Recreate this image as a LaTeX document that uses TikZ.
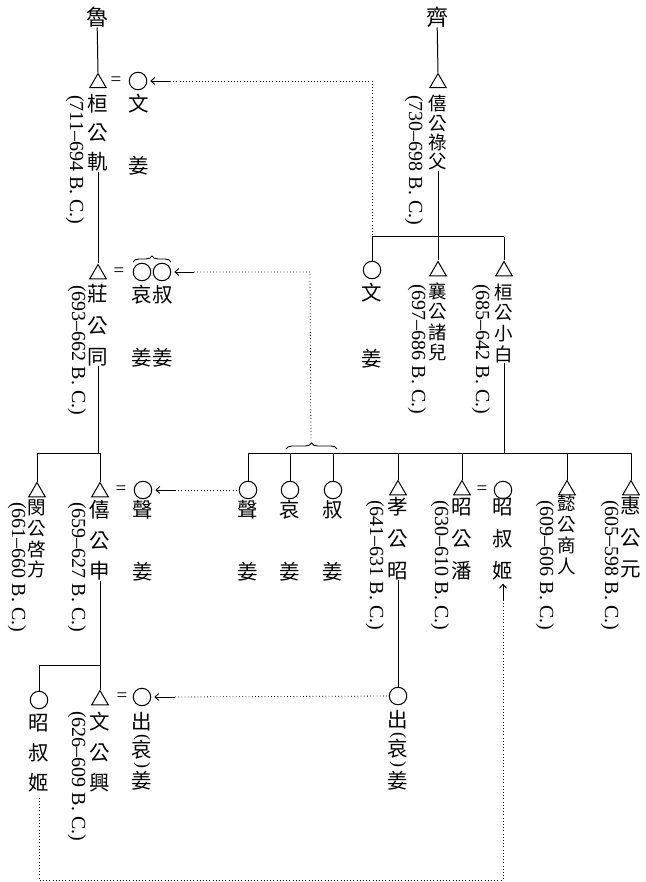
\documentclass[tikz,border=0pt]{standalone}
\usepackage{fontspec}
\setmainfont{Liberation Serif}
\newfontfamily\cjk{Noto Sans CJK TC}
\usetikzlibrary{arrows.meta,decorations.pathreplacing,shapes.geometric}
\tikzset{
  ln/.style={line width=1pt},
  dotln/.style={line width=0.8pt, dash pattern=on 0.8pt off 2.4pt},
  cj/.style={inner sep=0pt, font=\cjk\fontsize{20.5}{20.5}\selectfont},
  cjs/.style={inner sep=0pt, font=\cjk\fontsize{18.5}{18.5}\selectfont},
  house/.style={inner sep=0pt, font=\cjk\fontsize{22}{22}\selectfont},
  yr/.style={rotate=-90, anchor=west, inner sep=0pt, font=\fontsize{20}{20}\selectfont},
  tri/.style={draw, regular polygon, regular polygon sides=3, minimum size=19pt, inner sep=0pt, line width=1pt},
  cir/.style={draw, circle, minimum size=17.5pt, inner sep=0pt, line width=1pt},
  eq/.style={inner sep=0pt, font=\fontsize{19}{19}\selectfont},
  par/.style={inner sep=0pt, rotate=-90, font=\fontsize{18}{18}\selectfont},
  arr/.style={line width=0.9pt, shorten >=3pt, -{Straight Barb[length=4pt,width=7pt]}},
  brc/.style={decorate, decoration={brace, amplitude=6pt}, line width=0.9pt},
}
\newcommand\vcol[5]{\foreach \c [count=\i] in {#5} {\node[cj] (#1\i) at (#2,{#3+(\i-1)*#4}) {\c};}}
\newcommand\vcolc[5]{\foreach \c [count=\i] in {#5} {\node[cjs] (#1\i) at (#2,{#3+(\i-1)*#4}) {\c};}}
\begin{document}
\begin{tikzpicture}[x=1pt,y=-1pt]
\useasboundingbox (0,0) rectangle (645,882);
% houses
\node[house] (lu) at (97,17) {魯};
\node[house] (qi) at (437,17) {齊};

% ---------- generation 1 ----------
\node[tri] (tA) at (98,83) {};
\vcol{nA}{98}{104}{29}{桓,公,軌}
\node[yr] (yA) at (75,95) {(711–694 B.\ C.)};
\node[eq] (eA) at (116,81) {=};
\node[cir] (cA) at (138,81) {};
\vcol{nAw}{139}{104}{62}{文,姜}
\draw[ln] (lu) -- (tA.north);

\node[tri] (tB) at (438,83) {};
\vcolc{nB}{438}{104}{19.3}{僖,公,祿,父}
\node[yr] (yB) at (414,95) {(730–698 B.\ C.)};
\draw[ln] (qi) -- (tB.north);

\coordinate (bQ1) at (372,237);
\coordinate (bQ2) at (438,237);
\coordinate (bQ3) at (504,237);
\draw[ln] (nB4.south) -- (bQ2);
\draw[ln] (bQ1) -- (bQ3);

\coordinate (aA) at (170,81);
\coordinate (kA) at (372,81);
\draw[arr] (aA) -- (cA.east);
\draw[dotln] (aA) -- (kA) -- (bQ1);

% ---------- generation 2 (Qi) ----------
\node[cir] (cC) at (372,270) {};
\vcol{nC}{372}{293}{66}{文,姜}
\node[tri] (tD) at (438,271) {};
\vcolc{nD}{438}{291}{20.5}{襄,公,諸,兒}
\node[yr] (yD) at (417,284) {(697–686 B.\ C.)};
\node[tri] (tE) at (504,271) {};
\vcolc{nE}{504}{292}{20.8}{桓,公,小,白}
\node[yr] (yE) at (481,284) {(685–642 B.\ C.)};
\draw[ln] (bQ1) -- (cC.north);
\draw[ln] (bQ2) -- (tD.north);
\draw[ln] (bQ3) -- (tE.north);

% ---------- generation 2 (Lu) ----------
\node[tri] (tF) at (98,274) {};
\vcol{nF}{98}{294}{31.5}{莊,公,同}
\node[yr] (yF) at (77,285) {(693–662 B.\ C.)};
\node[eq] (eF) at (119,272) {=};
\node[cir] (cF1) at (142,272) {};
\node[cir] (cF2) at (162,272) {};
\vcol{nFa}{142}{295}{63}{哀,姜}
\vcol{nFb}{163}{295}{63}{叔,姜}
\draw[brc] (133,262) -- (171,262);
\draw[ln] (nA3.south) -- (tF.north);
\coordinate (aF) at (194,272);
\coordinate (kF) at (310,272);
\coordinate (tipR) at (311,441);
\draw[arr] (aF) -- (cF2.east);
\draw[dotln] (aF) -- (kF) -- (tipR);

% ---------- generation 3 (Lu) ----------
\coordinate (bL1) at (37,453);
\coordinate (bL2) at (100,453);
\draw[ln] (nF3.south) -- (nF3.south |- bL1);
\draw[ln] (bL1) -- (bL2);
\node[tri] (tG) at (37,492) {};
\vcolc{nG}{37}{508}{20.5}{閔,公,啓,方}
\node[yr] (yG) at (17,502) {(661–660 B.\ C.)};
\node[tri] (tH) at (100,492) {};
\vcol{nH}{100}{510}{30.5}{僖,公,申}
\node[yr] (yH) at (77,502) {(659–627 B.\ C.)};
\node[eq] (eH) at (121,490) {=};
\node[cir] (cH) at (143,490) {};
\vcol{nHw}{143}{510}{62}{聲,姜}
\draw[ln] (bL1) -- (tG.north);
\draw[ln] (bL2) -- (tH.north);

% ---------- generation 3 (Qi) ----------
\coordinate (bR1) at (248,453);
\coordinate (bR8) at (631,453);
\draw[ln] (nE4.south) -- (nE4.south |- bR1);
\draw[ln] (bR1) -- (bR8);
\draw[brc] (286,449) -- (337,449);

\node[cir] (cI) at (248,490) {};
\vcol{nI}{248}{510}{62}{聲,姜}
\node[cir] (cJ) at (290,490) {};
\vcol{nJ}{290}{510}{62}{哀,姜}
\node[cir] (cK) at (333,490) {};
\vcol{nK}{333}{510}{62}{叔,姜}
\node[tri] (tL) at (398,490) {};
\vcol{nL}{398}{507}{32}{孝,公,昭}
\node[yr] (yL) at (375,500) {(641–631 B.\ C.)};
\node[tri] (tM) at (462,490) {};
\vcol{nM}{462}{507}{32}{昭,公,潘}
\node[yr] (yM) at (440,500) {(630–610 B.\ C.)};
\node[eq] (eM) at (482,490) {=};
\node[cir] (cN) at (503,490) {};
\vcol{nN}{503}{507}{32}{昭,叔,姬}
\node[tri] (tO) at (567,490) {};
\vcolc{nO}{567}{503}{21.3}{懿,公,商,人}
\node[yr] (yO) at (545,500) {(609–606 B.\ C.)};
\node[tri] (tP) at (631,490) {};
\vcol{nP}{631}{506}{31.5}{惠,公,元}
\node[yr] (yP) at (610,500) {(605–598 B.\ C.)};

\foreach \n in {cI,cJ,cK,tL,tM,tO,tP} {\draw[ln] (\n.north |- bR1) -- (\n.north);}

\coordinate (aH) at (175,490);
\draw[arr] (aH) -- (cH.east);
\draw[dotln] (aH) -- (cI.west);

% ---------- generation 4 ----------
\coordinate (bM1) at (39,665);
\coordinate (bM2) at (100,665);
\draw[ln] (nH3.south) -- (nH3.south |- bM1);
\draw[ln] (bM1) -- (bM2);
\node[cir] (cQ) at (39,700) {};
\vcol{nQ}{39}{723}{30}{昭,叔,姬}
\node[tri] (tS) at (100,700) {};
\vcol{nS}{100}{722}{30.5}{文,公,興}
\node[yr] (yS) at (77,711) {(626–609 B.\ C.)};
\node[eq] (eS) at (122,697) {=};
\node[cir] (cS) at (142,697) {};
\node[cj] (s1) at (142,722) {出};
\node[par] (s2) at (142,737) {(};
\node[cj] (s3) at (142,750) {哀};
\node[par] (s4) at (142,765) {)};
\node[cj] (s5) at (142,781) {姜};
\draw[ln] (bM1) -- (cQ.north);
\draw[ln] (bM2) -- (tS.north);

\node[cir] (cR) at (398,696) {};
\node[cj] (r1) at (398,720) {出};
\node[par] (r2) at (398,735) {(};
\node[cj] (r3) at (398,749) {哀};
\node[par] (r4) at (398,764) {)};
\node[cj] (r5) at (398,781) {姜};
\draw[ln] (nL3.south) -- (cR.north);

\coordinate (aS) at (175,697);
\draw[arr] (aS) -- (cS.east);
\draw[dotln] (aS) -- (cR.west);

\coordinate (dB1) at (39,880);
\coordinate (dB2) at (503,880);
\coordinate (aN) at (503,600);
\draw[dotln, shorten <=5pt] (nQ3.south) -- (dB1) -- (dB2) -- (aN);
\draw[arr] (aN) -- (nN3.south);
\end{tikzpicture}
\end{document}
